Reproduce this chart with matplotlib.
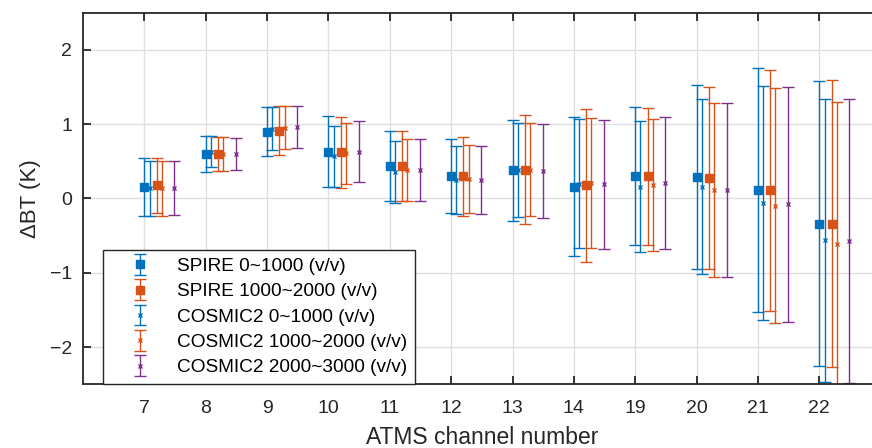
import numpy as np
import matplotlib
matplotlib.use("Agg")
import matplotlib.pyplot as plt
from matplotlib.legend_handler import HandlerErrorbar

plt.rcParams['font.family'] = ['Liberation Sans', 'DejaVu Sans']

# ATMS channels on the x axis
channels = ['7', '8', '9', '10', '11', '12', '13', '14', '19', '20', '21', '22']

# mean bias and standard deviation (K) for each group
spire1_mean = [0.16, 0.60, 0.90, 0.63, 0.44, 0.30, 0.38, 0.16, 0.30, 0.29, 0.11, -0.34]
spire1_std = [0.39, 0.24, 0.33, 0.48, 0.47, 0.50, 0.68, 0.94, 0.93, 1.24, 1.64, 1.92]
spire2_mean = [0.18, 0.60, 0.91, 0.62, 0.44, 0.30, 0.39, 0.18, 0.30, 0.275, 0.11, -0.34]
spire2_std = [0.37, 0.225, 0.33, 0.475, 0.47, 0.53, 0.735, 1.03, 0.92, 1.22, 1.62, 1.93]
cosmic1_mean = [0.14, 0.63, 0.94, 0.57, 0.36, 0.25, 0.38, 0.20, 0.16, 0.16, -0.06, -0.565]
cosmic1_std = [0.37, 0.21, 0.29, 0.41, 0.42, 0.46, 0.63, 0.87, 0.88, 1.18, 1.58, 1.91]
cosmic2_mean = [0.14, 0.60, 0.95, 0.61, 0.38, 0.26, 0.39, 0.21, 0.18, 0.12, -0.10, -0.61]
cosmic2_std = [0.37, 0.23, 0.29, 0.41, 0.42, 0.455, 0.63, 0.87, 0.89, 1.17, 1.58, 1.91]
cosmic3_mean = [0.14, 0.60, 0.965, 0.63, 0.38, 0.25, 0.37, 0.19, 0.21, 0.12, -0.08, -0.57]
cosmic3_std = [0.36, 0.22, 0.28, 0.41, 0.42, 0.455, 0.63, 0.87, 0.885, 1.17, 1.58, 1.91]

labels = ['SPIRE 0~1000 (v/v)', 'SPIRE 1000~2000 (v/v)', 'COSMIC2 0~1000 (v/v)',
          'COSMIC2 1000~2000 (v/v)', 'COSMIC2 2000~3000 (v/v)']

blue = '#0072BD'
orange = '#D95319'
purple = '#7E2F8E'

series = [
    (spire1_mean, spire1_std, 0.0, 's', blue, 5.8),
    (spire2_mean, spire2_std, 0.2, 's', orange, 5.8),
    (cosmic1_mean, cosmic1_std, 0.085, 'x', blue, 3.5),
    (cosmic2_mean, cosmic2_std, 0.285, 'x', orange, 3.5),
    (cosmic3_mean, cosmic3_std, 0.49, 'x', purple, 3.5),
]

fig = plt.figure(figsize=(8.72, 4.48), dpi=100)
ax = fig.add_axes([0.0952, 0.1422, 0.9148, 0.8295])

x = np.arange(1, len(channels) + 1)
for (m, s, off, mk, col, ms), lab in zip(series, labels):
    ax.errorbar(x + off, m, yerr=s, fmt=mk, color=col, ms=ms, mew=1.0,
                elinewidth=1.0, capsize=4.3, capthick=1.0, label=lab)

ax.set_xlim(0, 13)
ax.set_ylim(-2.5, 2.5)
ax.set_xticks(x)
ax.set_xticklabels(channels)
ax.set_yticks([-2, -1, 0, 1, 2])

ax.grid(True, color='#dedede', linewidth=1.0)
ax.set_axisbelow(True)
ax.tick_params(direction='in', length=6, width=1.3, colors='#262626',
               labelsize=14, top=True, right=True)
ax.tick_params(axis='x', pad=11)
ax.tick_params(axis='y', pad=8)
for sp in ax.spines.values():
    sp.set_color('#262626')
    sp.set_linewidth(1.3)

ax.set_xlabel('ATMS channel number', fontsize=16.5, color='#262626', labelpad=7)
ax.set_ylabel('ΔBT (K)', fontsize=16, color='#262626', labelpad=6)

leg = ax.legend(loc='lower left', bbox_to_anchor=(0.025, 0.0), fontsize=13.7,
                frameon=True, fancybox=False, edgecolor='#262626',
                framealpha=1.0, borderpad=0.42, labelspacing=0.42,
                handlelength=3.1, handletextpad=0.37, borderaxespad=0.0,
                handler_map={type(ax.containers[0]): HandlerErrorbar(xerr_size=0.3, yerr_size=0.55)})
leg.get_frame().set_linewidth(1.0)

fig.savefig('out.png', dpi=100)
